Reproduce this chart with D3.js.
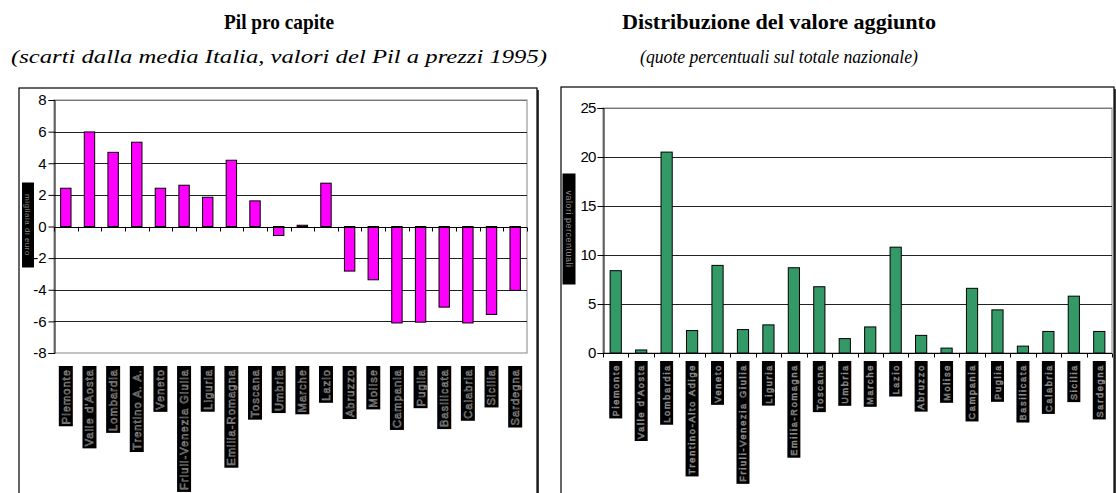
<!DOCTYPE html>
<html>
<head>
<meta charset="utf-8">
<script src="https://cdn.jsdelivr.net/npm/d3@7"></script>
<style>
  html, body { margin: 0; padding: 0; background: #fff; }
  svg { display: block; }
</style>
</head>
<body>
<script>
// Regioni (left chart labels)
const regioniPil = ["Piemonte", "Valle d'Aosta", "Lombardia", "Trentino A. A.", "Veneto",
  "Friuli-Venezia Giulia", "Liguria", "Emilia-Romagna", "Toscana", "Umbria", "Marche",
  "Lazio", "Abruzzo", "Molise", "Campania", "Puglia", "Basilicata", "Calabria", "Sicilia", "Sardegna"];
// Scarti dalla media Italia del Pil pro capite
const scartiPil = [2.42, 5.98, 4.69, 5.33, 2.42, 2.61, 1.85, 4.19, 1.62, -0.57, 0.08,
  2.74, -2.82, -3.37, -6.1, -6.05, -5.1, -6.1, -5.56, -4.04];
const ticksPil = [-8, -6, -4, -2, 0, 2, 4, 6, 8];

// Regioni (right chart labels)
const regioniVa = ["Piemonte", "Valle d'Aosta", "Lombardia", "Trentino-Alto Adige", "Veneto",
  "Friuli-Venezia Giulia", "Liguria", "Emilia-Romagna", "Toscana", "Umbria", "Marche",
  "Lazio", "Abruzzo", "Molise", "Campania", "Puglia", "Basilicata", "Calabria", "Sicilia", "Sardegna"];
// Quote percentuali del valore aggiunto
const quoteVa = [8.4, 0.31, 20.5, 2.29, 8.94, 2.39, 2.87, 8.7, 6.76, 1.47, 2.66,
  10.8, 1.8, 0.5, 6.6, 4.4, 0.7, 2.2, 5.8, 2.2];
const ticksVa = [0, 5, 10, 15, 20, 25];

const W = 1116, H = 493;
const svg = d3.select("body").append("svg").attr("width", W).attr("height", H);

// Titles and subtitles
const titles = [
  { x: 279, t: "Pil pro capite", tw: 110, s: "(scarti dalla media Italia, valori del Pil a prezzi 1995)", sw: 536 },
  { x: 779, t: "Distribuzione del valore aggiunto", tw: 314, s: "(quote percentuali sul totale nazionale)", sw: 278 }
];
titles.forEach(d => {
  svg.append("text").attr("x", d.x).attr("y", 29).attr("text-anchor", "middle")
    .attr("textLength", d.tw).attr("lengthAdjust", "spacingAndGlyphs")
    .style("font-family", "'Liberation Serif', 'Times New Roman', serif")
    .style("font-weight", "bold").style("font-size", "21px").text(d.t);
  svg.append("text").attr("x", d.x).attr("y", 63).attr("text-anchor", "middle")
    .attr("textLength", d.sw).attr("lengthAdjust", "spacingAndGlyphs")
    .style("font-family", "'Liberation Serif', 'Times New Roman', serif")
    .style("font-style", "italic").style("font-size", "19px").text(d.s);
});

// integer labels with a plain hyphen for negatives
const fmtInt = d => String(d);

function drawChart(cfg) {
  const g = svg.append("g");
  // chart area frame with shadow on the right
  g.append("rect").attr("x", cfg.box[0]).attr("y", cfg.box[1])
    .attr("width", cfg.box[2] - cfg.box[0]).attr("height", H + 10 - cfg.box[1])
    .attr("fill", "#fff").attr("stroke", "#000").attr("stroke-width", 1.2);
  g.append("line").attr("x1", cfg.box[2] + 1).attr("x2", cfg.box[2] + 1)
    .attr("y1", cfg.box[1] + 2).attr("y2", H + 10)
    .attr("stroke", "#000").attr("stroke-width", 1.5);

  const x = d3.scaleBand().domain(cfg.cats).range([cfg.plot.left, cfg.plot.right])
    .paddingInner(0.56).paddingOuter(0.28);
  const y = d3.scaleLinear().domain(cfg.domain).range([cfg.plot.bottom, cfg.plot.top]);

  // plot area border
  g.append("rect").attr("x", cfg.plot.left).attr("y", cfg.plot.top)
    .attr("width", cfg.plot.right - cfg.plot.left).attr("height", cfg.plot.bottom - cfg.plot.top)
    .attr("fill", "none").attr("stroke", "#999").attr("stroke-width", 1.2);

  // horizontal gridlines (skip the bottom border and the zero axis)
  g.selectAll(".grid").data(cfg.ticks.filter(t => t !== cfg.domain[0] && t !== 0))
    .join("line").attr("class", "grid")
    .attr("x1", cfg.plot.left).attr("x2", cfg.plot.right)
    .attr("y1", d => Math.round(y(d)) + 0.5).attr("y2", d => Math.round(y(d)) + 0.5)
    .attr("stroke", d => d === cfg.domain[1] ? "#777" : "#222").attr("stroke-width", 1);

  // bars
  g.selectAll(".bar").data(cfg.values).join("rect").attr("class", "bar")
    .attr("x", (d, i) => x(cfg.cats[i]))
    .attr("width", x.bandwidth())
    .attr("y", d => y(Math.max(0, d)))
    .attr("height", d => Math.max(1, Math.abs(y(d) - y(0))))
    .attr("fill", cfg.color).attr("stroke", "#000").attr("stroke-width", 1);

  // value axis
  const yAxis = d3.axisLeft(y).tickValues(cfg.ticks).tickSize(6).tickPadding(2).tickFormat(fmtInt);
  const ya = g.append("g").attr("transform", `translate(${cfg.plot.left + 0.5},0)`).call(yAxis)
    .attr("font-size", 15).attr("font-family", "'Liberation Sans', Arial, sans-serif");
  ya.select(".domain").attr("stroke", "#000");
  ya.selectAll(".tick line").attr("stroke", "#000");
  ya.selectAll(".tick text").attr("fill", "#000")
    .style("letter-spacing", cfg.tickSpacing);

  // category axis at zero: tick marks between bars
  const bounds = d3.range(cfg.cats.length + 1)
    .map(i => cfg.plot.left + i * (cfg.plot.right - cfg.plot.left) / cfg.cats.length);
  const y0 = Math.round(y(0)) + 0.5;
  g.append("line").attr("x1", cfg.plot.left).attr("x2", cfg.plot.right)
    .attr("y1", y0).attr("y2", y0).attr("stroke", "#000");
  g.selectAll(".xt").data(bounds).join("line").attr("class", "xt")
    .attr("x1", d => Math.round(d) + 0.5).attr("x2", d => Math.round(d) + 0.5)
    .attr("y1", y0).attr("y2", y0 + 4).attr("stroke", "#000");

  // value axis title in a dark box
  const yt = g.append("g").attr("transform", `translate(${cfg.ytitle.x},${cfg.ytitle.y})`);
  yt.append("rect").attr("x", -cfg.ytitle.w / 2).attr("y", -cfg.ytitle.h / 2)
    .attr("width", cfg.ytitle.w).attr("height", cfg.ytitle.h).attr("fill", "#000");
  yt.append("text").attr("transform", "rotate(90)").attr("text-anchor", "middle").attr("dy", "0.35em")
    .style("font-family", "'Liberation Sans', Arial, sans-serif").style("font-size", cfg.ytitle.fs)
    .style("letter-spacing", "0.5px").attr("fill", "#888").text(cfg.ytitle.text);

  // category labels, rotated, in dark boxes
  const lab = g.selectAll(".cat").data(cfg.cats).join("g").attr("class", "cat")
    .attr("transform", d => `translate(${x(d) + x.bandwidth() / 2},${cfg.labTop})`);
  lab.each(function(d) {
    const s = d3.select(this);
    const t = s.append("text").attr("transform", "rotate(-90)")
      .attr("x", -3).attr("y", 0).attr("dy", "0.36em").attr("text-anchor", "end")
      .style("font-family", "'Liberation Sans', Arial, sans-serif")
      .style("font-size", cfg.labFs).style("letter-spacing", cfg.labSpacing)
      .attr("fill", "#000").attr("stroke", "#8a8a8a").attr("stroke-width", 0.6)
      .text(d);
    const len = t.node().getComputedTextLength();
    s.insert("rect", "text").attr("x", -cfg.labW / 2).attr("y", 0)
      .attr("width", cfg.labW).attr("height", len + 5).attr("fill", "#000");
  });
}

drawChart({
  cats: regioniPil, values: scartiPil, ticks: ticksPil, domain: [-8, 8],
  color: "#ff00ff",
  box: [19, 88, 537],
  plot: { left: 54, right: 527, top: 100, bottom: 353 },
  tickSpacing: "0px",
  ytitle: { x: 28, y: 225, w: 12, h: 85, fs: "8px", text: "migliaia di euro" },
  labTop: 366, labW: 14, labFs: "11px", labSpacing: "1.1px"
});

drawChart({
  cats: regioniVa, values: quoteVa, ticks: ticksVa, domain: [0, 25],
  color: "#339966",
  box: [561, 87, 1114],
  plot: { left: 603, right: 1112, top: 108, bottom: 353 },
  tickSpacing: "-0.8px",
  ytitle: { x: 569, y: 229, w: 13, h: 111, fs: "9px", text: "valori percentuali" },
  labTop: 361, labW: 13, labFs: "9px", labSpacing: "1.8px"
});
</script>
</body>
</html>
